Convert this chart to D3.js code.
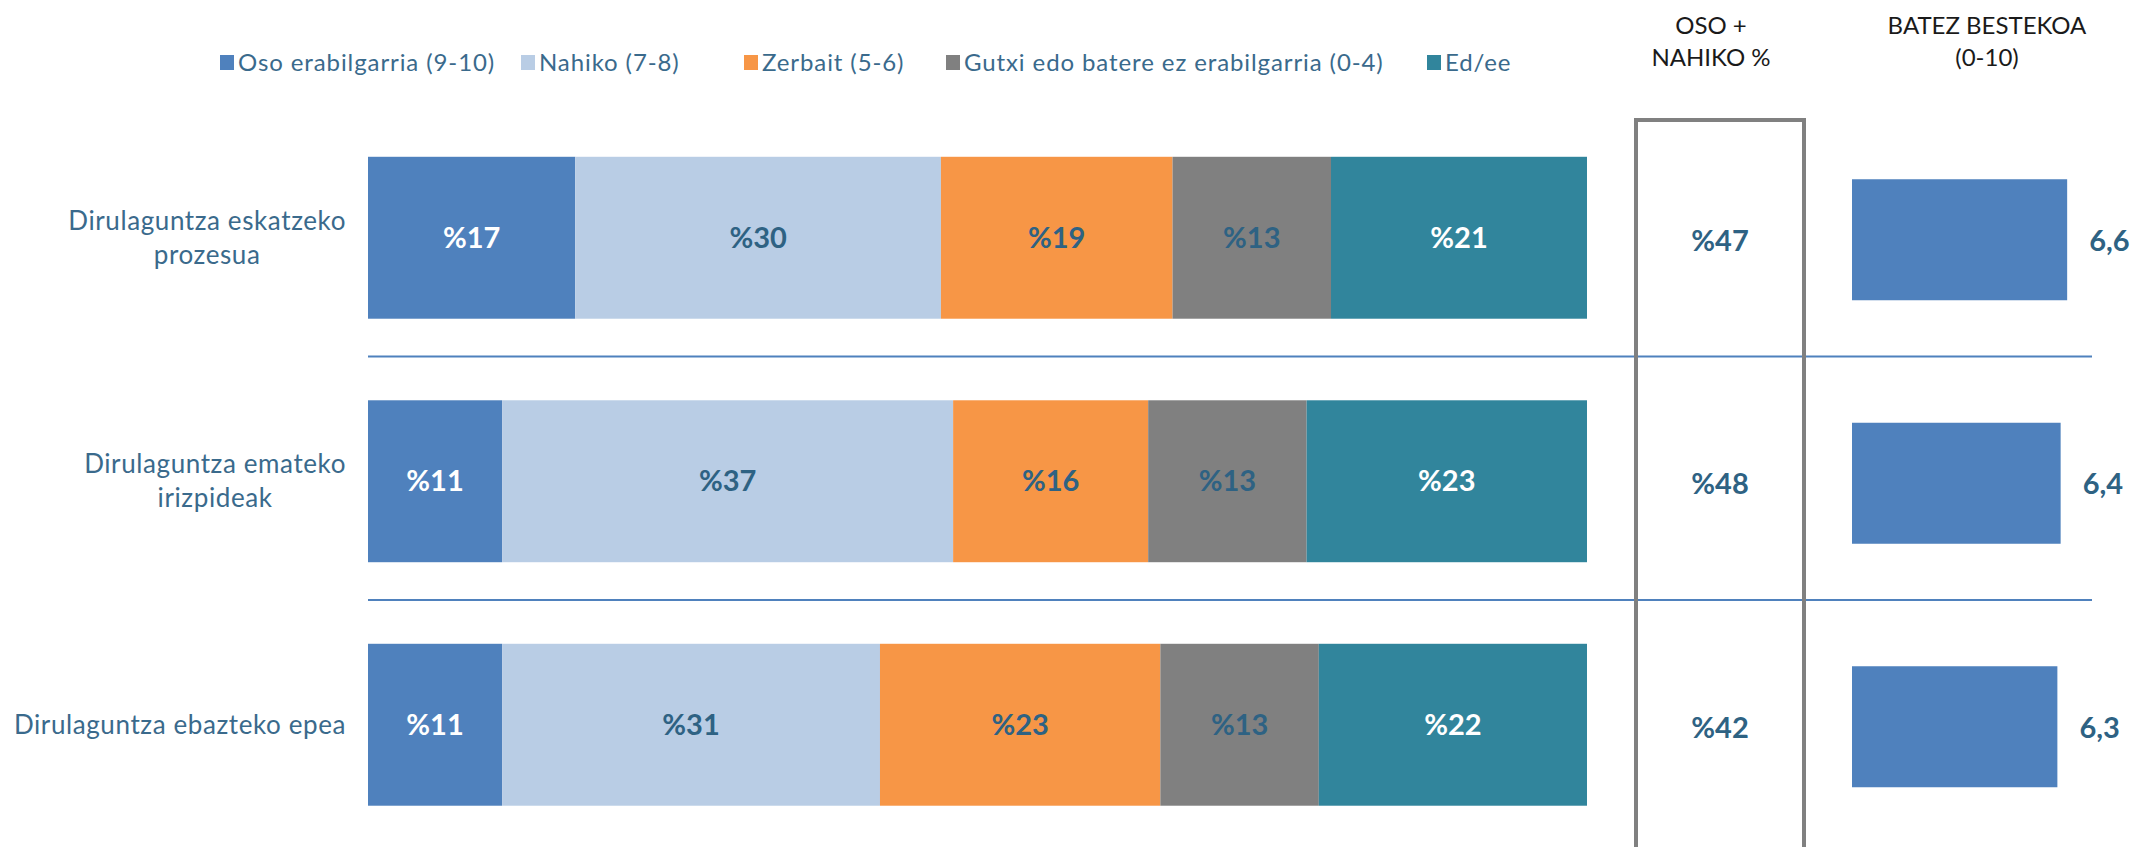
<!DOCTYPE html>
<html lang="eu">
<head>
<meta charset="UTF-8">
<title>Dirulaguntzak - balorazioa</title>
<script src="https://d3js.org/d3.v7.min.js"></script>
<style>
  body { margin: 0; background: #fff; }
  svg text { font-family: "Lato", "Open Sans", sans-serif; }
</style>
</head>
<body>
<script>
// data
const categories = [
  ["Dirulaguntza eskatzeko", "prozesua"],
  ["Dirulaguntza emateko", "irizpideak"],
  ["Dirulaguntza ebazteko epea"]
];

const seriesNames = ["Oso erabilgarria (9-10)", "Nahiko (7-8)", "Zerbait (5-6)",
                     "Gutxi edo batere ez erabilgarria (0-4)", "Ed/ee"];
const oso      = [17, 11, 11];
const nahiko   = [30, 37, 31];
const zerbait  = [19, 16, 23];
const gutxi    = [13, 13, 13];
const edee     = [21, 23, 22];
const osoNahiko = [47, 48, 42];
const batezBestekoa = [6.6, 6.4, 6.3];

const colors = ["#4f81bd", "#b9cde5", "#f79646", "#808080", "#31859c"];
const labelColors = ["#ffffff", "#2e6283", "#2e6283", "#2e6283", "#ffffff"];
const textBlue = "#3a6a8c";

const W = 2156, H = 847;
const svg = d3.select("body").append("svg").attr("width", W).attr("height", H);

const rows = categories.map((c, i) => ({
  key: c.join(" "), lines: c,
  values: [oso[i], nahiko[i], zerbait[i], gutxi[i], edee[i]],
  sum: osoNahiko[i], mean: batezBestekoa[i]
}));

const x = d3.scaleLinear().domain([0, 100]).range([368, 1587]);
const y = d3.scaleBand().domain(rows.map(d => d.key))
  .range([116, 846.5]).paddingInner(0.335).paddingOuter(0.1675);
const xm = d3.scaleLinear().domain([0, 10]).range([1852, 2178]);

// separators between rows
const step = y.step(), bw = y.bandwidth();
svg.selectAll("line.sep").data(rows.slice(0, -1)).join("line")
  .attr("class", "sep")
  .attr("x1", x(0)).attr("x2", 2092)
  .attr("y1", d => y(d.key) + bw + (step - bw) / 2 - 3)
  .attr("y2", d => y(d.key) + bw + (step - bw) / 2 - 3)
  .attr("stroke", "#4f81bd").attr("stroke-width", 2);

// stacked bars
const stackData = rows.map(r => {
  let acc = 0;
  return r.values.map((v, j) => { const s = { row: r, j, v, x0: acc, x1: acc + v }; acc += v; return s; });
});
const g = svg.append("g");
const segs = g.selectAll("g.row").data(stackData).join("g").attr("class", "row")
  .selectAll("g.seg").data(d => d).join("g").attr("class", "seg");
segs.append("rect")
  .attr("x", d => x(d.x0)).attr("width", d => x(d.x1) - x(d.x0))
  .attr("y", d => y(d.row.key)).attr("height", bw)
  .attr("fill", d => colors[d.j]);
segs.append("text")
  .attr("x", d => (x(d.x0) + x(d.x1)) / 2)
  .attr("y", d => y(d.row.key) + bw / 2)
  .attr("dy", "0.35em").attr("text-anchor", "middle")
  .attr("font-size", 29).attr("font-weight", "bold")
  .attr("fill", d => labelColors[d.j])
  .text(d => "%" + d.v);

// category labels (centered block, right edge at ~346)
rows.forEach(r => {
  const t = svg.append("text").attr("font-size", 26).attr("letter-spacing", 0.6)
    .attr("fill", textBlue).attr("text-anchor", "middle");
  const lh = 34;
  const cy = y(r.key) + bw / 2 - (r.lines.length - 1) * lh / 2;
  r.lines.forEach((l, k) => t.append("tspan").attr("x", 0).attr("y", cy + k * lh).attr("dy", "0.35em").text(l));
  const wmax = d3.max(t.selectAll("tspan").nodes(), n => n.getComputedTextLength());
  t.selectAll("tspan").attr("x", 346 - wmax / 2);
});

// OSO + NAHIKO box
svg.append("rect").attr("x", 1636).attr("y", 120).attr("width", 168).attr("height", 760)
  .attr("fill", "none").attr("stroke", "#808080").attr("stroke-width", 4);
svg.selectAll("text.sum").data(rows).join("text").attr("class", "sum")
  .attr("x", 1720).attr("y", d => y(d.key) + bw / 2 + 3).attr("dy", "0.35em")
  .attr("text-anchor", "middle").attr("font-size", 29).attr("font-weight", "bold")
  .attr("fill", "#2e6283").text(d => "%" + d.sum);

// mean bars
const mh = 121;
svg.selectAll("rect.mean").data(rows).join("rect").attr("class", "mean")
  .attr("x", xm(0)).attr("width", d => xm(d.mean) - xm(0))
  .attr("y", d => y(d.key) + bw / 2 - mh / 2 + 2).attr("height", mh)
  .attr("fill", "#4f81bd");
svg.selectAll("text.mean").data(rows).join("text").attr("class", "mean")
  .attr("x", d => xm(d.mean) + 22).attr("y", d => y(d.key) + bw / 2 + 3).attr("dy", "0.35em")
  .attr("font-size", 29).attr("font-weight", "bold").attr("fill", "#2e6283")
  .text(d => d3.format(".1f")(d.mean).replace(".", ","));

// headers
const hdr = [["OSO +", "NAHIKO %"], ["BATEZ BESTEKOA", "(0-10)"]];
[1711, 1987].forEach((cx, i) => {
  hdr[i].forEach((l, k) => svg.append("text").attr("x", cx).attr("y", 34 + k * 32)
    .attr("text-anchor", "middle").attr("font-size", 24).attr("fill", "#1a1a1a").text(l));
});

// legend (entry positions as in the original layout)
const legX = [220, 521, 744, 946, 1427];
const leg = svg.append("g").attr("transform", "translate(0,63)");
seriesNames.forEach((n, i) => {
  const it = leg.append("g").attr("transform", `translate(${legX[i]},0)`);
  it.append("rect").attr("x", 0).attr("y", -8).attr("width", 14).attr("height", 15).attr("fill", colors[i]);
  it.append("text").attr("x", 18).attr("dy", "0.35em").attr("font-size", 24)
    .attr("letter-spacing", 0.9).attr("fill", textBlue).text(n);
});
</script>
</body>
</html>
